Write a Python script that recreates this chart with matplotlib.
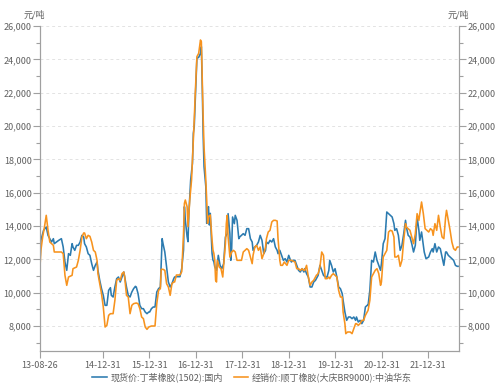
import matplotlib
matplotlib.use('Agg')
import matplotlib.pyplot as plt
import matplotlib.ticker as mticker
import numpy as np
import pandas as pd

plt.rcParams['font.family'] = ['Noto Sans CJK SC', 'DejaVu Sans']

# ---- data (weekly observations; week index since 2013-08-26) ----
start_date = '2013-08-26'

blue_week = [0, 1, 4, 7, 9, 13, 15, 16, 21, 24, 26, 28, 30, 32, 34, 36, 37, 39, 41, 43, 45, 47, 49, 50, 52, 54, 56, 58, 60, 62, 64, 65, 67, 69, 71,
             73, 75, 77, 79, 80, 82, 84, 86, 88, 90, 92, 94, 95, 97, 99, 101, 103, 105, 107, 108, 110, 112, 114, 116, 118, 120, 122, 123, 125, 127, 129, 131, 133, 135, 136, 137, 138, 140, 142, 144, 146, 148, 150, 151,
             153, 155, 157, 159, 161, 162, 163, 165, 166, 167, 168, 169, 171, 172, 173, 174, 176, 178, 180, 181, 182, 183, 184, 186, 187, 188, 189, 190, 191, 193, 194, 195, 196,
             198, 200, 202, 204, 206, 208, 210, 211, 213, 214, 215, 216, 218, 219, 221, 223, 224, 226, 228, 230, 232, 234, 236, 238, 239, 241, 243, 245, 247, 249, 251, 253, 254, 256, 258, 260, 262, 264, 266, 267, 269,
             271, 273, 275, 277, 279, 281, 282, 284, 286, 288, 290, 292, 294, 296, 297, 299, 301, 303, 305, 307, 309, 310, 312, 314, 316, 318, 320, 322, 324, 325, 327, 329, 331, 333, 335, 337, 339, 340, 342,
             344, 346, 348, 350, 352, 354, 355, 357, 359, 361, 363, 365, 367, 368, 370, 372, 374, 376, 378, 380, 382, 383, 385, 387, 389, 391, 393, 395, 397, 398, 400, 402, 404, 406, 408, 410, 411, 413, 415,
             417, 419, 421, 423, 425, 426, 428, 429, 431, 433, 436, 438, 440, 441, 443, 445, 447, 449, 451, 453, 455, 456, 458, 460, 462, 464, 466, 468, 469]
blue_price = [11840, 13140, 13740, 13940, 13440, 13040, 13240, 12940, 13140, 13240, 12740, 11840, 11340, 12340, 12240, 12940, 12740, 12540, 12840, 12840, 13040, 13440, 13340, 12940, 12740, 12340, 12240, 11740, 11340, 11640, 11840, 11340, 10740, 10240, 9840,
              9240, 9240, 10140, 10300, 9840, 9740, 10340, 10840, 10940, 10640, 10940, 11240, 10940, 10340, 9840, 9740, 10040, 10240, 10380, 10340, 9940, 9240, 9040, 9040, 8840, 8740, 8840, 8840, 9040, 9140, 9140, 10040, 10240, 10340, 11840, 13240, 12940, 12440, 11540, 10640, 10340, 10540, 10840, 10940,
              10960, 10960, 10960, 11460, 12560, 15160, 14360, 13360, 13060, 14760, 15760, 16760, 17760, 19560, 19960, 21360, 24060, 24120, 24360, 24760, 22360, 19500, 17560, 16360, 14160, 14960, 15160, 14060, 14760, 12360, 11960, 11860, 11560,
              11340, 12240, 11640, 11440, 11740, 13340, 13540, 14740, 13540, 11940, 12640, 14540, 14140, 14640, 14340, 13240, 13340, 13440, 13540, 13440, 13840, 13840, 13240, 13040, 12540, 12740, 12840, 13040, 13440, 13140, 12340, 12540, 13040, 12940, 13140, 13040, 13240, 12740, 12540, 12340, 12540,
              12240, 11940, 12040, 11840, 12240, 11940, 11840, 11940, 11940, 11640, 11340, 11240, 11440, 11240, 11440, 11140, 10940, 10340, 10340, 10640, 10740, 10840, 11040, 11640, 11340, 11040, 10940, 10940, 11340, 11940, 11640, 11240, 11440, 10940, 10340, 10240, 9940, 9540, 8840,
              8340, 8540, 8540, 8440, 8540, 8340, 8540, 8240, 8340, 8140, 8340, 9140, 9240, 9240, 10140, 11940, 11840, 12440, 11940, 11640, 11340, 11740, 12940, 13240, 14840, 14740, 14640, 14540, 14140, 13740, 13840, 13440, 12540, 12840, 13540, 14340, 13940, 13440, 13340,
              12940, 12440, 12840, 14540, 13740, 13140, 13640, 13240, 12440, 12040, 12140, 12440, 12640, 12440, 12940, 12440, 12740, 12640, 12140, 11640, 12440, 12440, 12240, 12140, 12040, 11940, 11640, 11580, 11580]

orange_week = [0, 1, 3, 5, 7, 9, 11, 15, 16, 21, 24, 26, 28, 30, 32, 36, 37, 41, 43, 45, 47, 49, 50, 52, 54, 56, 58, 60, 62, 64, 65, 67, 69, 71,
               73, 75, 77, 79, 82, 84, 86, 88, 90, 92, 94, 95, 97, 99, 101, 103, 105, 108, 110, 112, 114, 116, 118, 120, 122, 125, 129, 131, 133, 135, 136, 138, 140, 142, 144, 146, 148, 150, 151,
               153, 157, 159, 161, 162, 163, 165, 166, 167, 168, 170, 171, 173, 174, 176, 178, 180, 181, 182, 183, 184, 186, 187, 188, 189, 191, 193, 194, 195, 196, 197, 198,
               199, 201, 203, 205, 206, 208, 209, 210, 211, 213, 215, 217, 219, 221, 224, 226, 228, 230, 232, 234, 236, 238, 239, 241, 243, 245, 247, 249, 251, 253, 254, 256, 258, 260, 262, 264, 266, 267, 269,
               270, 272, 274, 277, 279, 282, 286, 288, 290, 292, 294, 296, 297, 299, 301, 303, 305, 307, 309, 310, 312, 314, 316, 318, 320, 322, 324, 325, 327, 329, 331, 333, 335, 337, 339, 340, 342,
               343, 345, 348, 350, 352, 354, 355, 357, 359, 361, 363, 365, 367, 368, 370, 372, 374, 376, 378, 380, 382, 383, 385, 387, 389, 391, 393, 395, 397, 398, 400, 402, 404, 406, 408, 410, 411, 413, 415,
               417, 419, 421, 423, 425, 426, 428, 430, 432, 434, 436, 438, 440, 441, 443, 445, 447, 449, 451, 453, 455, 456, 458, 460, 462, 464, 466, 468, 469]
orange_price = [11540, 12540, 13340, 13940, 14640, 13740, 13040, 12840, 12440, 12440, 12440, 12340, 11040, 10440, 10940, 11040, 11440, 11540, 11940, 12540, 13340, 13580, 13580, 13240, 13440, 13380, 13040, 12540, 12440, 11940, 11140, 10540, 9940, 9140,
                7940, 8040, 8640, 8740, 8740, 9540, 10740, 10840, 10740, 11140, 11240, 10940, 9840, 9740, 8740, 9240, 9340, 9380, 9340, 9040, 8540, 8440, 7940, 7800, 7940, 8000, 8000, 9340, 10140, 10240, 11400, 11400, 11340, 10540, 10340, 9840, 10540, 10640, 10640,
                11060, 11060, 11260, 13560, 15360, 15560, 15160, 13960, 14760, 15560, 16760, 17960, 20360, 21760, 24160, 24360, 25160, 25060, 22760, 20560, 18760, 16760, 15560, 14160, 14560, 14660, 13160, 12560, 12360, 11960, 10740, 10640,
                11940, 11540, 11440, 10940, 11640, 12940, 14140, 14640, 13340, 12140, 12440, 12540, 12440, 11940, 11940, 11940, 12440, 12540, 12640, 12540, 12140, 11740, 12240, 12740, 12840, 12540, 12740, 12040, 12340, 12740, 13240, 13640, 13740, 14240, 14340, 14340, 14300, 13240, 11940,
                11640, 11640, 11840, 11640, 11940, 11940, 11840, 11440, 11440, 11340, 11440, 11340, 11340, 11640, 10940, 10440, 10640, 10740, 10940, 11040, 11140, 11540, 12440, 12240, 10840, 10840, 10940, 10840, 11040, 11140, 11040, 10940, 10140, 9740, 9740, 8840, 8140,
                7540, 7640, 7640, 7540, 7840, 8140, 8140, 8040, 8140, 8340, 8340, 8640, 8840, 8940, 9540, 10940, 11140, 11340, 11440, 11140, 10440, 10640, 12140, 12340, 12540, 13640, 13740, 13700, 13340, 12140, 12140, 12240, 11580, 11940, 13140, 14140, 13940, 13840, 13740,
                13340, 12940, 13540, 14740, 14340, 14740, 15440, 14740, 13840, 13740, 13640, 13840, 13740, 13440, 14140, 13740, 14640, 13940, 13340, 13240, 14540, 14940, 14340, 13740, 13040, 12640, 12540, 12740, 12740]

series_names = ['现货价:丁苯橡胶(1502):国内', '经销价:顺丁橡胶(大庆BR9000):中油华东']
x_tick_dates = ['2013-08-26', '2014-12-31', '2015-12-31', '2016-12-31', '2017-12-31',
                '2018-12-31', '2019-12-31', '2020-12-31', '2021-12-31']
unit_label = '元/吨'

# ---- plotting ----
start = pd.Timestamp(start_date)
bdates = start + pd.to_timedelta(np.array(blue_week) * 7, unit='D')
odates = start + pd.to_timedelta(np.array(orange_week) * 7, unit='D')

BLUE = '#2c7bb0'
ORANGE = '#f7931e'
AX_COL = '#a0a0a0'
TXT = '#606060'

fig = plt.figure(figsize=(5.04, 3.83), dpi=100)
ax = fig.add_axes([40 / 504, 1 - 351 / 383, 419 / 504, 325 / 383])

l1, = ax.plot(bdates, blue_price, color=BLUE, lw=1.15, label=series_names[0])
l2, = ax.plot(odates, orange_price, color=ORANGE, lw=1.15, label=series_names[1])

ax.set_ylim(6500, 26000)
ax.set_xlim(start, start + pd.Timedelta(weeks=470))

ymaj = list(range(8000, 26001, 2000))
fmt = mticker.FuncFormatter(lambda v, p: f'{int(v):,}')

ax2 = ax.twinx()
ax2.set_ylim(ax.get_ylim())
for a in (ax, ax2):
    a.set_yticks(ymaj)
    a.yaxis.set_major_formatter(fmt)
    a.yaxis.set_minor_locator(mticker.MultipleLocator(1000))
    a.tick_params(axis='y', which='major', length=5, width=0.8, color=AX_COL,
                  labelsize=6.5, labelcolor=TXT, pad=1)
    a.tick_params(axis='y', which='minor', length=3, width=0.8, color=AX_COL)
    for s in a.spines.values():
        s.set_color(AX_COL)
        s.set_linewidth(0.8)
    a.spines['top'].set_visible(False)

ax.grid(axis='y', which='major', ls=(0, (3, 3)), color='#e3e3e3', lw=0.7)
ax.set_axisbelow(True)

xt = [pd.Timestamp(d) for d in x_tick_dates]
ax.set_xticks(xt)
ax.set_xticklabels([d.strftime('%y-%m-%d') for d in xt])
ax.tick_params(axis='x', length=5, width=0.8, color=AX_COL, labelsize=6.5,
               labelcolor=TXT, pad=2)

fig.text(34 / 504, 1 - 15 / 383, unit_label, ha='center', va='center', fontsize=6.5, color=TXT)
fig.text(458 / 504, 1 - 15 / 383, unit_label, ha='center', va='center', fontsize=6.5, color=TXT)

fig.legend(handles=[l1, l2], loc='center', bbox_to_anchor=(0.5, 1 - 377 / 383), ncol=2,
           frameon=False, fontsize=6.5, handlelength=1.6, handletextpad=0.4,
           columnspacing=1.2, labelcolor=TXT)

fig.savefig('out.png', dpi=100)
